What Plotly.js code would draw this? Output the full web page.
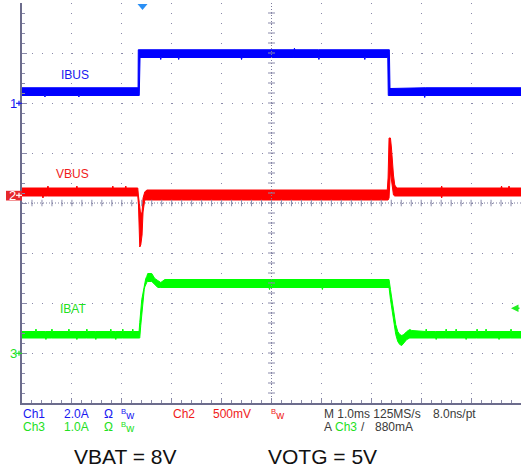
<!DOCTYPE html>
<html><head><meta charset="utf-8">
<script src="https://cdn.plot.ly/plotly-3.0.1.min.js"></script>
<style>html,body{margin:0;padding:0;background:#fff;} #chart{width:521px;height:469px;}</style>
</head><body><div id="chart"></div>
<script>
// ---- Data (time in ms relative to trigger; values in physical units) ----
const ibusT  = [-2.4, -1.95,-1.94,-1.93, -1.27,-1.26,-1.25, -0.074,-0.070,-0.050,-0.034, 0.37,0.38,0.39, 0.73,0.74,0.75, 1.99,2.00,2.01, 3.05,3.06,3.07, 3.54,3.55,3.56, 4.46,4.47,4.48, 4.930,4.940,4.962,4.975, 5.66,5.67,5.68, 7.6];
const ibusHi = [0.61, 0.61,0.61,0.61, 0.61,0.61,0.61, 0.61,2.13,2.13,2.13, 2.13,2.13,2.13, 2.13,2.13,2.13, 2.13,2.13,2.13, 2.13,2.19,2.13, 2.13,2.13,2.13, 2.13,2.13,2.13, 2.13,2.13,2.13,0.58, 0.61,0.61,0.61, 0.61];
const ibusLo = [0.30, 0.30,0.24,0.30, 0.30,0.24,0.30, 0.30,0.30,0.30,1.82, 1.82,1.74,1.82, 1.82,1.74,1.82, 1.82,1.74,1.82, 1.82,1.82,1.82, 1.82,1.74,1.82, 1.82,1.74,1.82, 1.82,0.30,0.30,0.30, 0.30,0.22,0.30, 0.30];

const vbusT  = [-2.4, -1.99,-1.98,-1.97, -1.89,-1.88,-1.87, -1.31,-1.30,-1.29, -0.59,-0.58,-0.57, -0.33,-0.32,-0.31, -0.080,-0.066,-0.040,-0.020,0.006,0.026,0.060,0.100, 4.920,4.936,4.956,4.984,5.004,5.024,5.044,5.070,5.110, 6.00,6.01,6.02, 7.20,7.21,7.22, 7.35,7.36,7.37, 7.6];
const vbusHi = [5.07, 5.07,5.07,5.07, 5.07,5.09,5.07, 5.07,5.09,5.07, 5.07,5.09,5.07, 5.07,5.09,5.07, 5.07,4.99,4.88,4.80,4.83,4.97,5.03,5.05, 5.05,5.17,5.57,5.57,5.47,5.32,5.20,5.10,5.07, 5.07,5.09,5.07, 5.07,5.09,5.07, 5.07,5.09,5.07, 5.07];
const vbusLo = [4.99, 4.99,4.97,4.99, 4.99,4.99,4.99, 4.99,4.99,4.99, 4.99,4.99,4.99, 4.99,4.99,4.99, 4.99,4.90,4.48,4.50,4.60,4.83,4.95,4.95, 4.95,4.95,4.97,5.25,5.15,5.07,5.00,4.99,4.99, 4.99,4.97,4.99, 4.99,4.99,4.99, 4.99,4.99,4.99, 4.99];

const ibatT  = [-2.4, -2.13,-2.12,-2.11, -1.93,-1.92,-1.91, -1.81,-1.80,-1.79, -1.47,-1.46,-1.45, -1.31,-1.30,-1.29, -1.11,-1.10,-1.09, -0.93,-0.92,-0.91, -0.63,-0.62,-0.61, -0.53,-0.52,-0.51, -0.39,-0.38,-0.37, -0.19,-0.18,-0.17,
  -0.054,-0.040,-0.020,-0.010,0,0.010,0.020,0.030,0.040,0.050,0.060,0.080,0.100,0.120,0.200,0.261,0.321,0.381,0.461,
  2.55,2.56,2.57, 3.61,3.62,3.63,
  4.956,4.984,5.010,5.036,5.064,5.090,5.130,5.170,5.210,5.251,5.311,5.371,5.411,
  5.69,5.70,5.71, 5.89,5.90,5.91, 6.09,6.10,6.11, 6.29,6.30,6.31, 6.49,6.50,6.51, 6.71,6.72,6.73, 6.89,6.90,6.91, 7.15,7.16,7.17, 7.39,7.40,7.41,
  7.6];
const ibatHi = [0.43, .43,.48,.43, .43,.43,.43, .43,.48,.43, .43,.48,.43, .43,.43,.43, .43,.48,.43, .43,.43,.43, .43,.48,.43, .43,.43,.43, .43,.48,.43, .43,.48,.43,
  0.43,0.61,0.97,1.02,1.07,1.12,1.17,1.24,1.31,1.37,1.43,1.49,1.53,1.59,1.59,1.49,1.45,1.41,1.47,
  1.47,1.47,1.47, 1.47,1.47,1.47,
  1.47,1.27,1.07,0.87,0.71,0.57,0.43,0.37,0.35,0.37,0.43,0.47,0.45,
  .43,.48,.43, .43,.43,.43, .43,.48,.43, .43,.48,.43, .43,.43,.43, .43,.48,.43, .43,.48,.43, .43,.43,.43, .43,.48,.43,
  0.43];
const ibatLo = [0.30, .30,.30,.30, .30,.27,.30, .30,.30,.30, .30,.30,.30, .30,.27,.30, .30,.30,.30, .30,.27,.30, .30,.30,.30, .30,.27,.30, .30,.30,.30, .30,.30,.30,
  0.30,0.30,0.55,0.67,0.79,0.91,1.01,1.11,1.19,1.27,1.32,1.39,1.41,1.43,1.43,1.37,1.31,1.31,1.31,
  1.31,1.27,1.31, 1.31,1.27,1.31,
  1.31,1.07,0.87,0.67,0.51,0.37,0.23,0.17,0.15,0.20,0.27,0.30,0.30,
  .30,.30,.30, .30,.27,.30, .30,.30,.30, .30,.30,.30, .30,.27,.30, .30,.30,.30, .30,.30,.30, .30,.27,.30, .30,.30,.30,
  0.30];

const traceLabels = ['IBUS', 'VBUS', 'IBAT'];
const infoRow1 = ['Ch1', '2.0A', 'Ω', '<sup>B</sup>w', 'Ch2', '500mV', '<sup>B</sup>w', 'M 1.0ms 125MS/s', '8.0ns/pt'];
const infoRow2 = ['Ch3', '1.0A', 'Ω', '<sup>B</sup>w', 'A', 'Ch3', '/', '880mA'];
const footer = ['VBAT = 8V', 'VOTG = 5V'];

// ---- Channel settings (position in divisions, units per division, offset) ----
const CH1 = {pos: 2.0,  scale: 2.0, off: 0};
const CH2 = {pos: 0.16, scale: 0.5, off: 5.0};
const CH3 = {pos: -3.0, scale: 1.0, off: 0};
const BLUE = '#0000ff', RED = '#ff0000', GREEN = '#00ff00';
const TBLUE = '#1818f0', TRED = '#f01a1a', TGREEN = '#22e022', TGRAY = '#3a3a3a';
const GRID = '#8a8aaa', FRAME = '#6c6c8c';

function toDiv(vals, ch) { return vals.map(v => ch.pos + (v - ch.off) / ch.scale); }
function band(t, hi, lo, ch, color) {
  return [
    {x: t, y: toDiv(lo, ch), mode: 'lines', line: {color: color, width: 1}, hoverinfo: 'skip', showlegend: false},
    {x: t, y: toDiv(hi, ch), mode: 'lines', line: {color: color, width: 1}, fill: 'tonexty', fillcolor: color, hoverinfo: 'skip', showlegend: false}
  ];
}
const data = [].concat(
  band(ibusT, ibusHi, ibusLo, CH1, BLUE),
  band(vbusT, vbusHi, vbusLo, CH2, RED),
  band(ibatT, ibatHi, ibatLo, CH3, GREEN)
);

// pixel -> paper helpers (plot area: x 22..521, y 3..403)
const PX = p => (p - 22) / 499;
const PY = p => (403 - p) / 400;
const FS = 'Liberation Sans Narrow, Arial Narrow, Liberation Sans, Arial, sans-serif';

function txt(s, px, py, color, size, family) {
  return {text: s, x: PX(px), y: PY(py), xref: 'paper', yref: 'paper', xanchor: 'left', yanchor: 'middle',
    showarrow: false, borderpad: 0, font: {family: family || FS, size: size || 12, color: color}};
}

const annotations = [
  txt(traceLabels[0], 60, 75, TBLUE),
  txt(traceLabels[1], 55, 174, TRED),
  txt(traceLabels[2], 58.5, 309, TGREEN),
  txt('1', 9, 103.5, TBLUE, 13),
  txt('2', 7.5, 195.8, '#ffffff', 13),
  txt('3', 9, 353.5, TGREEN, 13),
  // info row 1
  txt(infoRow1[0], 22, 413.8, TBLUE),
  txt(infoRow1[1], 62.5, 413.8, TBLUE),
  txt(infoRow1[2], 102.5, 413.8, TBLUE),
  txt(infoRow1[3], 119.5, 413.8, TBLUE, 11),
  txt(infoRow1[4], 172, 413.8, TRED),
  txt(infoRow1[5], 212, 413.8, TRED),
  txt(infoRow1[6], 270, 413.8, TRED, 11),
  txt(infoRow1[7], 322.5, 413.8, TGRAY),
  txt(infoRow1[8], 431.5, 413.8, TGRAY),
  // info row 2
  txt(infoRow2[0], 22, 426.5, TGREEN),
  txt(infoRow2[1], 62.5, 426.5, TGREEN),
  txt(infoRow2[2], 102.5, 426.5, TGREEN),
  txt(infoRow2[3], 119.5, 426.5, TGREEN, 11),
  txt(infoRow2[4], 322.5, 426.5, TGRAY),
  txt(infoRow2[5], 333.5, 426.5, TGREEN),
  txt(infoRow2[6], 360, 426.5, TGRAY),
  txt(infoRow2[7], 373.5, 426.5, TGRAY),
  // footer
  txt(footer[0], 73, 456, '#111111', 21, 'Liberation Sans, Arial, sans-serif'),
  txt(footer[1], 267, 456, '#111111', 21, 'Liberation Sans, Arial, sans-serif'),
  // ch3 trigger level arrow at right edge
  {x: PX(511), y: PY(308.3), xref: 'paper', yref: 'paper', ax: 10, ay: 0, text: '', showarrow: true,
   arrowhead: 2, arrowsize: 1, arrowwidth: 1.5, arrowcolor: '#22ee22'}
];

// ---- Shapes: crosshair, ticks, channel markers, trigger marker ----
const shapes = [];
const XC = 2.6; // screen centre time
shapes.push({type: 'line', xref: 'x', yref: 'y', x0: -2.4, x1: 7.6, y0: 0, y1: 0, layer: 'above', line: {color: '#7c7c9c', width: 1, dash: '1px,2px'}});
shapes.push({type: 'line', xref: 'x', yref: 'y', x0: XC, x1: XC, y0: -4, y1: 4, layer: 'above', line: {color: '#7c7c9c', width: 1, dash: '1px,2px'}});
for (let k = 1; k < 50; k++) {
  const xv = -2.4 + 0.2 * k;
  shapes.push({type: 'line', xref: 'x', yref: 'y', x0: xv, x1: xv, y0: -0.065, y1: 0.065, layer: 'above', line: {color: '#8c8cac', width: 1}});
}
for (let k = 1; k < 40; k++) {
  const yv = -4 + 0.2 * k;
  shapes.push({type: 'line', xref: 'x', yref: 'y', x0: XC - 0.07, x1: XC + 0.07, y0: yv, y1: yv, layer: 'above', line: {color: '#8c8cac', width: 1}});
}
function plusArrow(py, color) {
  shapes.push({type: 'line', xref: 'paper', yref: 'paper', x0: PX(16), x1: PX(22), y0: PY(py), y1: PY(py), line: {color: color, width: 1.2}});
  shapes.push({type: 'line', xref: 'paper', yref: 'paper', x0: PX(19), x1: PX(19), y0: PY(py - 2.5), y1: PY(py + 2.5), line: {color: color, width: 1.2}});
}
plusArrow(103.3, TBLUE);
shapes.push({type: 'rect', xref: 'paper', yref: 'paper', x0: PX(6), x1: PX(22), y0: PY(200.5), y1: PY(190.8), fillcolor: '#e6282c', line: {width: 0}});
plusArrow(195.3, '#ffffff');
plusArrow(353.3, TGREEN);
shapes.push({type: 'path', xref: 'paper', yref: 'paper',
  path: `M ${PX(137.5)},${PY(4)} L ${PX(147.5)},${PY(4)} L ${PX(142.5)},${PY(10)} Z`,
  fillcolor: '#2a8ff5', line: {width: 0}});

const axisCommon = {
  showgrid: true, gridcolor: GRID, gridwidth: 1, griddash: '1px,9px',
  showline: true, linecolor: FRAME, linewidth: 2,
  ticks: 'inside', ticklen: 5, tickcolor: GRID, tickwidth: 1,
  showticklabels: false, zeroline: false, fixedrange: true
};
const layout = {
  width: 521, height: 469,
  margin: {l: 22, r: 0, t: 3, b: 66, pad: 0},
  paper_bgcolor: '#ffffff', plot_bgcolor: '#ffffff',
  showlegend: false,
  xaxis: Object.assign({}, axisCommon, {range: [-2.4, 7.6], tick0: -2.4, dtick: 1,
    minor: {dtick: 0.2, tick0: -2.4, ticks: 'inside', ticklen: 3, tickcolor: GRID, showgrid: false}}),
  yaxis: Object.assign({}, axisCommon, {range: [-4, 4], tick0: -4, dtick: 1,
    minor: {dtick: 0.2, tick0: -4, ticks: 'inside', ticklen: 3, tickcolor: GRID, showgrid: false}}),
  shapes: shapes,
  annotations: annotations
};
Plotly.newPlot('chart', data, layout, {staticPlot: true, displayModeBar: false});
</script>
</body></html>
